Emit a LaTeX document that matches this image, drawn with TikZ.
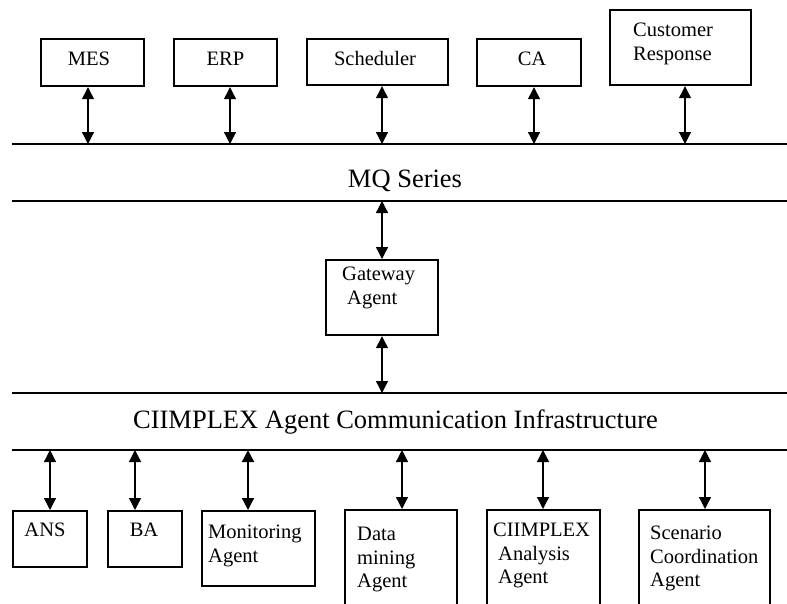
\documentclass[tikz,border=0pt]{standalone}
\usepackage{fontspec}
\setmainfont{Liberation Serif}
\usepackage{tikz}
\usetikzlibrary{arrows.meta}

\begin{document}
\begin{tikzpicture}[x=1pt,y=-1pt,line join=miter]
\tikzstyle{box}=[draw,line width=2.2pt,inner sep=0pt,anchor=north west]
\tikzstyle{txt}=[inner sep=0pt,align=left]
\tikzstyle{bus}=[line width=2.2pt]
\tikzstyle{bustxt}=[inner sep=0pt,font=\fontsize{26.5}{30}\selectfont]
\tikzstyle{link}=[{Triangle[width=12pt,length=12pt]}-{Triangle[width=12pt,length=12pt]},line width=1.3pt]
\tikzset{font=\fontsize{20.5}{23.5}\selectfont}

\useasboundingbox (0,0) rectangle (787,603);
\clip (0,0) rectangle (787,603);

        % the three bus lines
        \coordinate (mqw) at (12,144);      \coordinate (mqe) at (790,144);
        \coordinate (mqw2) at (12,201);     \coordinate (mqe2) at (790,201);
        \coordinate (caiw) at (12,393);     \coordinate (caie) at (790,393);
        \coordinate (caiw2) at (12,450);    \coordinate (caie2) at (790,450);
        \draw[bus] (mqw) -- (mqe);
        \draw[bus] (mqw2) -- (mqe2);
        \draw[bus] (caiw) -- (caie);
        \draw[bus] (caiw2) -- (caie2);

        \node[bustxt,anchor=north]      (mq)    at (405,170)    {MQ Series};
        \node[bustxt,anchor=north]      (cai)   at (395.5,410)  {CIIMPLEX Agent Communication Infrastructure};

        % applications on top
        \node[box,minimum width=103pt,minimum height=47pt]      (mes)   at (40,38)      {};
        \node[txt,anchor=north]                                 (mest)  at (89,52)      {MES};

        \node[box,minimum width=103pt,minimum height=47pt]      (erp)   at (173,38)     {};
        \node[txt,anchor=north]                                 (erpt)  at (225.5,52)   {ERP};

        \node[box,minimum width=141pt,minimum height=46pt]      (sch)   at (306,38)     {};
        \node[txt,anchor=north]                                 (scht)  at (375,51)     {Scheduler};

        \node[box,minimum width=104pt,minimum height=47pt]      (ca)    at (476,38)     {};
        \node[txt,anchor=north]                                 (cat)   at (532,52)     {CA};

        \node[box,minimum width=141pt,minimum height=75pt]      (cr)    at (609,9)      {};
        \node[txt,anchor=north west]                            (crt)   at (633,23)     {Customer\\Response};

        % gateway
        \node[box,minimum width=112pt,minimum height=75pt]      (gw)    at (325,259)    {};
        \node[txt,anchor=north west]                            (gwt)   at (342,267)    {Gateway\\\hspace*{5pt}Agent};

        % agents at the bottom
        \node[box,minimum width=74pt,minimum height=56pt]       (ans)   at (12,510)     {};
        \node[txt,anchor=north]                                 (anst)  at (45,523)     {ANS};

        \node[box,minimum width=74pt,minimum height=56pt]       (ba)    at (107,510)    {};
        \node[txt,anchor=north]                                 (bat)   at (144,523)    {BA};

        \node[box,minimum width=113pt,minimum height=75pt]      (mon)   at (201,510)    {};
        \node[txt,anchor=north west]                            (mont)  at (208,525)    {Monitoring\\Agent};

        \node[box,minimum width=112pt,minimum height=120pt]     (dm)    at (344,509)    {};
        \node[txt,anchor=north west]                            (dmt)   at (357,527)    {Data\\mining\\Agent};

        \node[box,minimum width=113pt,minimum height=120pt]     (cia)   at (486,509)    {};
        \node[txt,anchor=north west]                            (ciat)  at (493,523)    {CIIMPLEX\\\hspace*{5pt}Analysis\\\hspace*{5pt}Agent};

        \node[box,minimum width=131pt,minimum height=120pt]     (sca)   at (638,509)    {};
        \node[txt,anchor=north west]                            (scat)  at (650,526)    {Scenario\\Coordination\\Agent};

        % where the arrows meet the bus lines
        \coordinate (mesl) at (88,144);
        \coordinate (erpl) at (230,144);
        \coordinate (schl) at (382,144);
        \coordinate (cal)  at (534,144);
        \coordinate (crl)  at (685,144);
        \coordinate (gwu)  at (382,201);
        \coordinate (gwd)  at (382,393);
        \coordinate (ansl) at (50,450);
        \coordinate (bal)  at (135,450);
        \coordinate (monl) at (248,450);
        \coordinate (dml)  at (402,450);
        \coordinate (cial) at (543,450);
        \coordinate (scal) at (705,450);

        \path[link]
        (mesl)  edge    (mesl |- mes.south)
        (erpl)  edge    (erpl |- erp.south)
        (schl)  edge    (schl |- sch.south)
        (cal)   edge    (cal |- ca.south)
        (crl)   edge    (crl |- cr.south)
        (gwu)   edge    (gwu |- gw.north)
        (gwd)   edge    (gwd |- gw.south)
        (ansl)  edge    (ansl |- ans.north)
        (bal)   edge    (bal |- ba.north)
        (monl)  edge    (monl |- mon.north)
        (dml)   edge    (dml |- dm.north)
        (cial)  edge    (cial |- cia.north)
        (scal)  edge    (scal |- sca.north)
        ; %end path

\end{tikzpicture}
\end{document}
